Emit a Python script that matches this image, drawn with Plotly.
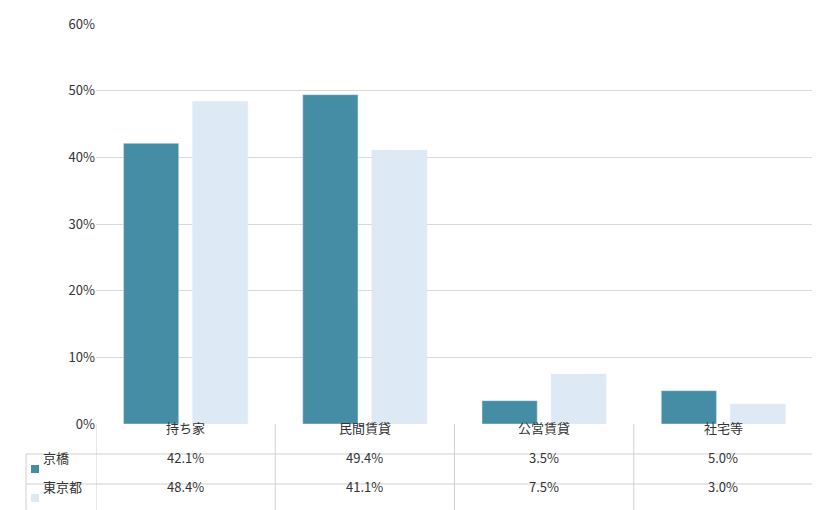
import plotly.graph_objects as go

categories = ["持ち家", "民間賃貸", "公営賃貸", "社宅等"]
kyobashi = [42.1, 49.4, 3.5, 5.0]
tokyo = [48.4, 41.1, 7.5, 3.0]
series_names = ["京橋", "東京都"]
colors = ["#458ca5", "#dde9f5"]

fig = go.Figure()
for name, vals, c in zip(series_names, [kyobashi, tokyo], colors):
    fig.add_bar(x=list(range(len(categories))), y=vals, name=name, marker_color=c,
                showlegend=False)

W, H = 820, 510
ml, mr, mt, mb = 88, 15, 16, 94
ph = H - mt - mb
pw = W - ml - mr
def py(px):
    return -px / ph
left_px = 18
left_paper = -(ml - left_px) / pw

lc = "#d0d0d0"
shapes = []
rows = [0, 30, 60, 88]
for r in rows[1:]:
    shapes.append(dict(type="line", xref="paper", yref="paper", x0=left_paper, x1=1, y0=py(r), y1=py(r), line=dict(color=lc, width=1)))
shapes.append(dict(type="line", xref="paper", yref="paper", x0=left_paper, x1=left_paper, y0=py(30), y1=py(88), line=dict(color=lc, width=1)))
for b in [-0.5, 0.5, 1.5, 2.5, 3.5]:
    shapes.append(dict(type="line", xref="x", yref="paper", x0=b, x1=b, y0=0, y1=py(88), line=dict(color=lc, width=1)))

ann = []
f = dict(family="Noto Sans CJK JP", size=13, color="#333")
for i, c in enumerate(categories):
    ann.append(dict(x=i, y=py(15), xref="x", yref="paper", text=c, showarrow=False, font=f))
    ann.append(dict(x=i, y=py(45), xref="x", yref="paper", text=f"{kyobashi[i]:.1f}%", showarrow=False, font=f))
    ann.append(dict(x=i, y=py(74), xref="x", yref="paper", text=f"{tokyo[i]:.1f}%", showarrow=False, font=f))
for j, (name, c) in enumerate(zip(series_names, colors)):
    yc = [45, 74][j]
    sq = 4
    x0p = left_paper + 5 / pw
    shapes.append(dict(type="rect", xref="paper", yref="paper", x0=x0p, x1=x0p + 8 / pw,
                       y0=py(yc + sq), y1=py(yc - sq), fillcolor=c, line=dict(width=0)))
    ann.append(dict(x=left_paper + 15 / pw, y=py(yc), xref="paper", yref="paper", text=name,
                    showarrow=False, xanchor="left", font=f))

fig.update_layout(
    width=W, height=H, margin=dict(l=ml, r=mr, t=mt, b=mb, autoexpand=False),
    plot_bgcolor="white", paper_bgcolor="white",
    barmode="group", bargap=0.23, bargroupgap=0.2,
    font=f, shapes=shapes, annotations=ann,
    xaxis=dict(range=[-0.5, 3.5], showticklabels=False, showgrid=False, zeroline=False),
    yaxis=dict(range=[0, 60], dtick=10, ticksuffix="%", gridcolor="#d9d9d9", zeroline=False,
               ticks="", tickfont=dict(size=13, color="#333"), automargin=False),
)
fig.write_html("out.html")
